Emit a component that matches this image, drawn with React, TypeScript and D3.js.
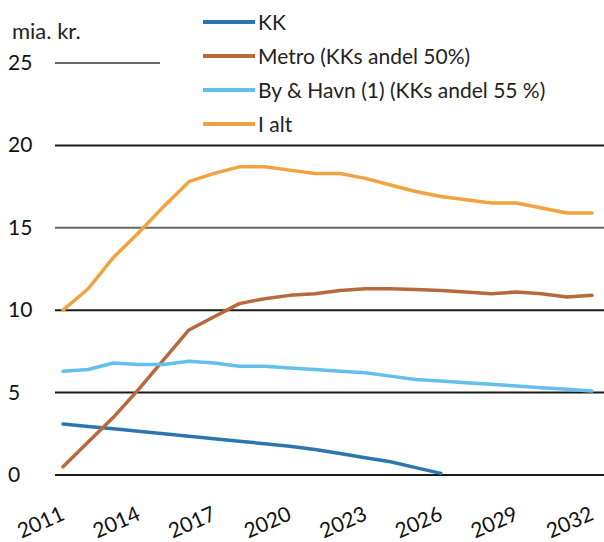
import * as d3 from 'd3';

const years = d3.range(2011, 2033);
const tickYears = [2011, 2014, 2017, 2020, 2023, 2026, 2029, 2032];
const yTicks = [0, 5, 10, 15, 20, 25];

const kkValues = [3.1, 2.95, 2.8, 2.65, 2.5, 2.35, 2.2, 2.05, 1.9, 1.75, 1.55, 1.3, 1.05, 0.8, 0.45, 0.1];
const metroValues = [0.5, 2.0, 3.5, 5.2, 7.0, 8.8, 9.6, 10.4, 10.7, 10.9, 11.0, 11.2, 11.3, 11.3, 11.25, 11.2, 11.1, 11.0, 11.1, 11.0, 10.8, 10.9];
const byHavnValues = [6.3, 6.4, 6.8, 6.7, 6.7, 6.9, 6.8, 6.6, 6.6, 6.5, 6.4, 6.3, 6.2, 6.0, 5.8, 5.7, 5.6, 5.5, 5.4, 5.3, 5.2, 5.1];
const iAltValues = [10.0, 11.3, 13.2, 14.7, 16.3, 17.8, 18.3, 18.7, 18.7, 18.5, 18.3, 18.3, 18.0, 17.6, 17.2, 16.9, 16.7, 16.5, 16.5, 16.2, 15.9, 15.9];

const seriesNames = ['KK', 'Metro (KKs andel 50%)', 'By & Havn (1) (KKs andel 55 %)', 'I alt'];
const seriesColors = ['#2b77ad', '#b8693c', '#62c0ea', '#f2a23e'];

const WIDTH = 604;
const HEIGHT = 542;
const FONT = 'Lato, "Open Sans", sans-serif';

export default function App() {
  const x = d3.scaleLinear().domain([2011, 2032]).range([63, 592]);
  const y = d3.scaleLinear().domain([0, 25]).range([475, 63]);

  const allSeries = [kkValues, metroValues, byHavnValues, iAltValues];
  const line = d3
    .line<number>()
    .x((_, i) => x(years[i]))
    .y((v) => y(v));

  const gridColor = (t: number) => (t === 15 || t === 25 ? '#666' : '#1a1a1a');

  return (
    <svg
      width={WIDTH}
      height={HEIGHT}
      style={{ position: 'absolute', left: 0, top: 0, background: '#fff' }}
      fontFamily={FONT}
    >
      <text x={12} y={39} fontSize={22} fill="#222">
        mia. kr.
      </text>
      {yTicks.map((t) => (
        <g key={t}>
          <line x1={55} x2={WIDTH} y1={y(t)} y2={y(t)} stroke={gridColor(t)} strokeWidth={2} />
          <text x={8} y={y(t) + 7} fontSize={21} fill="#111">
            {t}
          </text>
        </g>
      ))}
      {tickYears.map((yr) => (
        <text
          key={yr}
          transform={`translate(${x(yr) + 3},${519}) rotate(-24)`}
          textAnchor="end"
          fontSize={21}
          fill="#111"
        >
          {yr}
        </text>
      ))}
      {/* legend box hides the upper gridline */}
      <rect x={160} y={0} width={WIDTH - 160} height={138} fill="#fff" />
      {seriesNames.map((name, i) => (
        <g key={name} transform={`translate(203,${22 + i * 34})`}>
          <line x1={0} x2={52} y1={0} y2={0} stroke={seriesColors[i]} strokeWidth={4} />
          <text x={55} y={8} fontSize={21} fill="#222">
            {name}
          </text>
        </g>
      ))}
      {allSeries.map((vals, i) => (
        <path
          key={seriesNames[i]}
          d={line(vals) ?? ''}
          fill="none"
          stroke={seriesColors[i]}
          strokeWidth={3.5}
          strokeLinejoin="round"
          strokeLinecap="round"
        />
      ))}
    </svg>
  );
}
